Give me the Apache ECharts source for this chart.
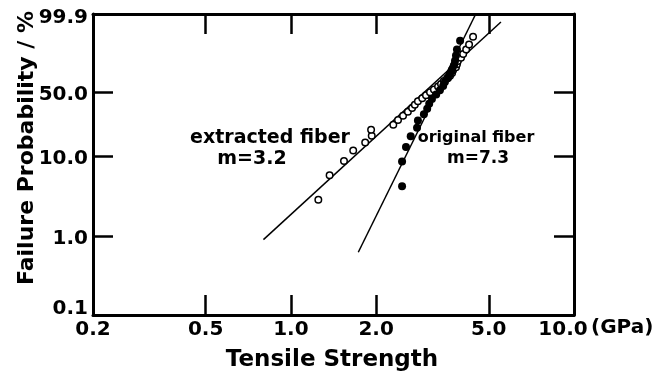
<!DOCTYPE html>
<html lang="en">
<head>
  <meta charset="UTF-8" />
  <title>Weibull plot of fiber tensile strength</title>
  <script src="https://cdn.jsdelivr.net/npm/echarts@6.0.0/dist/echarts.min.js"></script>
</head>
<body style="margin:0; background:#fff;">
  <div id="main" style="width: 665px; height: 379px;"></div>

  <script>
    // tick labels
    const strengthTicks = [0.2, 0.5, 1.0, 2.0, 5.0, 10.0];   // GPa
    const probTicks = [0.1, 1.0, 10.0, 50.0, 99.9];          // %

    // extracted fiber (open circles): strength in GPa, failure probability in %
    const extractedStrength = [1.25, 1.37, 1.54, 1.66, 1.83, 1.93, 1.92, 2.30, 2.39, 2.49, 2.59,
      2.68, 2.74, 2.81, 2.91, 3.00, 3.10, 3.20, 3.31, 3.39, 3.47, 3.56, 3.65, 3.71, 3.74, 3.83,
      3.86, 3.89, 3.99, 4.06, 4.16, 4.26, 4.40];
    const extractedProb = [2.9, 5.9, 8.8, 11.8, 14.7, 17.6, 20.6, 23.5, 26.5, 29.4, 32.4,
      35.3, 38.2, 41.2, 44.1, 47.1, 50.0, 52.9, 55.9, 58.8, 61.8, 64.7, 67.6, 70.6, 73.5, 76.5,
      79.4, 82.4, 85.3, 88.2, 91.2, 94.1, 97.1];

    // original fiber (filled dots)
    const originalStrength = [2.47, 2.47, 2.55, 2.65, 2.79, 2.81, 2.95, 3.03, 3.08, 3.15, 3.26,
      3.36, 3.45, 3.50, 3.59, 3.65, 3.71, 3.77, 3.80, 3.83, 3.86, 3.96];
    const originalProb = [4.3, 8.7, 13.0, 17.4, 21.7, 26.1, 30.4, 34.8, 39.1, 43.5, 47.8,
      52.2, 56.5, 60.9, 65.2, 69.6, 73.9, 78.3, 82.6, 87.0, 91.3, 95.7];

    // fitted lines, end points
    const extractedFitStrength = [0.80, 5.52];
    const extractedFitProb = [0.91, 99.58];
    const originalFitStrength = [1.73, 4.47];
    const originalFitProb = [0.63, 99.865];

    // weibull coordinates
    const tx = (s) => Math.log10(s);
    const ty = (p) => Math.log(-Math.log(1 - p / 100));
    const pairs = (xs, ps) => xs.map((s, i) => [tx(s), ty(ps[i])]);

    const xTickVals = strengthTicks.map(tx);
    const yTickVals = probTicks.map(ty);
    const nearest = (vals, v) => {
      let best = 0;
      vals.forEach((t, i) => { if (Math.abs(t - v) < Math.abs(vals[best] - v)) best = i; });
      return best;
    };

    const font = "DejaVu Sans";
    const axisLine = { show: true, onZero: false, lineStyle: { color: "#000", width: 3 } };
    const tick = (vals) => ({
      show: true, inside: true, length: 20, customValues: vals,
      lineStyle: { color: "#000", width: 2.5 },
    });
    const tickText = { color: "#000", fontFamily: font, fontSize: 20, fontWeight: "bold" };

    const myChart = echarts.init(document.getElementById("main"));
    myChart.setOption({
      animation: false,
      backgroundColor: "#fff",
      grid: { left: 93, right: 91, top: 14, bottom: 64 },
      xAxis: [
        {
          type: "value", position: "bottom",
          min: xTickVals[0], max: xTickVals[xTickVals.length - 1],
          axisLine: axisLine,
          axisTick: tick(xTickVals.slice(1, -1)),
          splitLine: { show: false },
          axisLabel: Object.assign({
            customValues: xTickVals, margin: 5,
            formatter: (v) => {
              const i = nearest(xTickVals, v);
              const txt = strengthTicks[i].toFixed(1);
              return i === strengthTicks.length - 1 ? "{end|" + txt + "}" : txt;
            },
            rich: { end: Object.assign({ padding: [0, 22, 0, 0] }, tickText) },
          }, tickText),
        },
        {
          type: "value", position: "top",
          min: xTickVals[0], max: xTickVals[xTickVals.length - 1],
          axisLine: axisLine,
          axisTick: tick(xTickVals.slice(1, -1)),
          axisLabel: { show: false },
          splitLine: { show: false },
        },
      ],
      yAxis: [
        {
          type: "value", position: "left",
          min: yTickVals[0], max: yTickVals[yTickVals.length - 1],
          axisLine: axisLine,
          axisTick: tick(yTickVals.slice(1, -1)),
          splitLine: { show: false },
          axisLabel: Object.assign({
            customValues: yTickVals, margin: 5,
            formatter: (v) => {
              const i = nearest(yTickVals, v);
              const txt = probTicks[i].toFixed(1);
              if (i === 0) return "{lo|" + txt + "}";
              if (i === probTicks.length - 1) return "{hi|" + txt + "}";
              return "{mid|" + txt + "}";
            },
            rich: {
              lo: Object.assign({ padding: [0, 0, 13, 0] }, tickText),
              hi: Object.assign({ padding: [8, 0, 0, 0] }, tickText),
              mid: Object.assign({ padding: [5, 0, 0, 0] }, tickText),
            },
          }, tickText),
        },
        {
          type: "value", position: "right",
          min: yTickVals[0], max: yTickVals[yTickVals.length - 1],
          axisLine: axisLine,
          axisTick: tick(yTickVals.slice(1, -1)),
          axisLabel: { show: false },
          splitLine: { show: false },
        },
      ],
      series: [
        {
          type: "line", data: pairs(extractedFitStrength, extractedFitProb),
          symbol: "none", lineStyle: { color: "#000", width: 1.5 }, z: 2,
        },
        {
          type: "line", data: pairs(originalFitStrength, originalFitProb),
          symbol: "none", lineStyle: { color: "#000", width: 1.5 }, z: 2,
        },
        {
          type: "scatter", data: pairs(extractedStrength, extractedProb),
          symbol: "circle", symbolSize: 6.5, z: 3,
          itemStyle: { color: "#fff", borderColor: "#000", borderWidth: 1.5, opacity: 1 },
        },
        {
          type: "scatter", data: pairs(originalStrength, originalProb),
          symbol: "circle", symbolSize: 8, z: 4,
          itemStyle: { color: "#000", opacity: 1 },
        },
      ],
      graphic: [
        {
          type: "text", x: 27, y: 148, rotation: Math.PI / 2,
          style: { text: "Failure Probability / %", font: `bold 22px "${font}"`, fill: "#000",
            textAlign: "center", textVerticalAlign: "middle" },
        },
        {
          type: "text", x: 332, y: 360,
          style: { text: "Tensile Strength", font: `bold 23px "${font}"`, fill: "#000",
            textAlign: "center", textVerticalAlign: "middle" },
        },
        {
          type: "text", x: 591, y: 328,
          style: { text: "(GPa)", font: `bold 20px "${font}"`, fill: "#000",
            textAlign: "left", textVerticalAlign: "middle" },
        },
        {
          type: "text", x: 270, y: 138,
          style: { text: "extracted fiber", font: `bold 19px "${font}"`, fill: "#000",
            textAlign: "center", textVerticalAlign: "middle" },
        },
        {
          type: "text", x: 252, y: 159,
          style: { text: "m=3.2", font: `bold 19px "${font}"`, fill: "#000",
            textAlign: "center", textVerticalAlign: "middle" },
        },
        {
          type: "text", x: 476, y: 138,
          style: { text: "original fiber", font: `bold 16px "${font}"`, fill: "#000",
            textAlign: "center", textVerticalAlign: "middle" },
        },
        {
          type: "text", x: 478, y: 159,
          style: { text: "m=7.3", font: `bold 17px "${font}"`, fill: "#000",
            textAlign: "center", textVerticalAlign: "middle" },
        },
      ],
    });
  </script>
</body>
</html>
